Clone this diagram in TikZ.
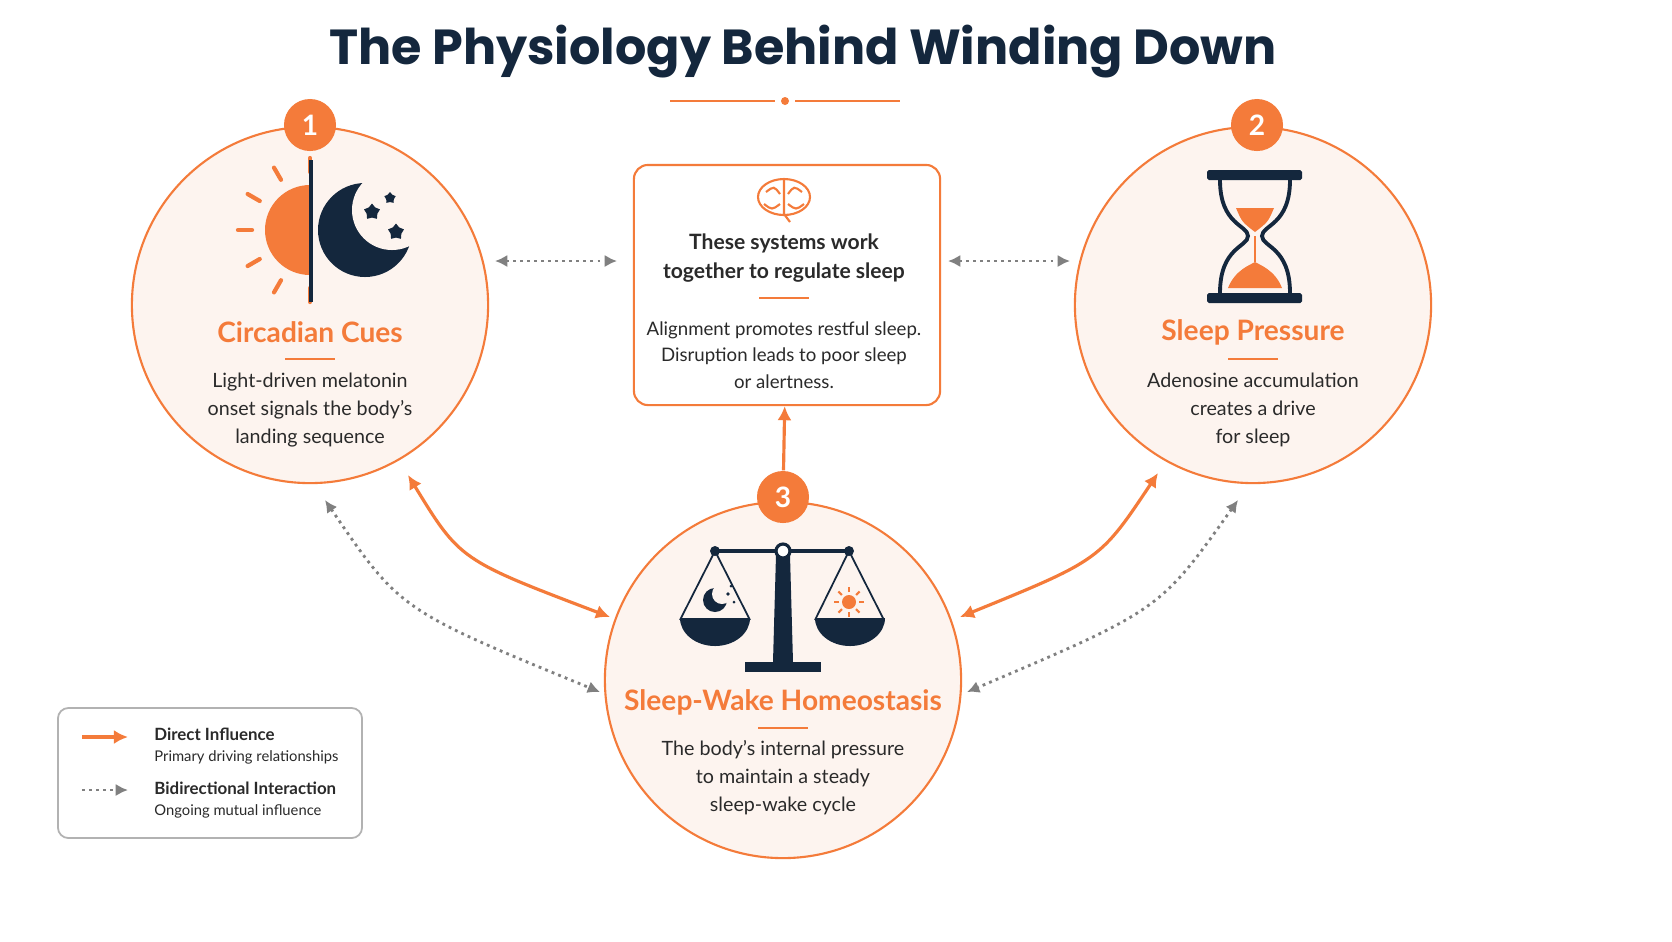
\documentclass[tikz,border=0pt]{standalone}
\usepackage{fontspec}
\setmainfont{Lato}
\newfontfamily\titlefont{Poppins}
\usetikzlibrary{calc, positioning, arrows.meta, shapes.geometric}
\definecolor{orng}{HTML}{F47B3A}
\definecolor{navy}{HTML}{14273D}
\definecolor{peach}{HTML}{FDF4EF}
\definecolor{txt}{HTML}{2A2A2A}
\tikzset{
    hub/.style={circle, draw=orng, line width=0.6pt, fill=peach, minimum size=3.56cm},
    badge/.style={circle, fill=orng, text=white, minimum size=0.52cm, inner sep=0pt, font=\bfseries\fontsize{8}{8}\selectfont},
    heading/.style={text=orng, font=\bfseries\fontsize{8}{9}\selectfont},
    body/.style={text=txt, align=center, font=\fontsize{5.6}{8}\selectfont},
    direct/.style={{Latex[length=4pt,width=4pt]}-{Latex[length=4pt,width=4pt]}, orng, line width=0.9pt},
    mutual/.style={{Latex[length=3.5pt,width=3.5pt]}-{Latex[length=3.5pt,width=3.5pt]}, gray, line width=0.8pt, dash pattern=on 0.8pt off 1.2pt},
    rule/.style={orng, line width=0.4pt}
}
\begin{document}
\begin{tikzpicture}[x=0.01cm, y=-0.01cm]
    \useasboundingbox[fill=white] (0,0) rectangle (1672,941);
    % title
    \node[text=navy, font=\titlefont\bfseries\fontsize{14}{16}\selectfont] (title) at (803,52) {The Physiology Behind Winding Down};
    \draw[orng, line width=0.7pt] (670,101) -- (775,101) (795,101) -- (900,101);
    \fill[orng] (785,101) circle (4);

    % hubs
    \node[hub] (cues) at (310,305) {};
    \node[hub] (press) at (1253,305) {};
    \node[hub] (homeo) at (783,680) {};
    \node[badge] (b1) at (310,125) {1};
    \node[badge] (b2) at (1257,125) {2};
    \node[badge] (b3) at (783,497) {3};

    % circadian icon
    \begin{scope}
        \clip (250,150) rectangle (310,290);
        \fill[orng] (310,230) circle (45);
    \end{scope}
    \foreach \a in {90,120,150,180,210,240,270}
        \draw[orng, line width=1.2pt, line cap=round] ($(310,230)+(\a:58)$) -- ($(310,230)+(\a:72)$);
    \draw[navy, line width=0.9pt] (311,160) -- (311,302);
    \fill[navy] (365,230) circle (47);
    \fill[peach] (392,210) circle (40);
    \foreach \p/\s in {{372,212}/7,{390,198}/5,{396,232}/7}
        \node[navy, star, star points=5, fill, inner sep=0pt, minimum size=\s*0.024cm] at (\p) {};
    \node[heading] (h1) at (310,332) {Circadian Cues};
    \draw[rule] (285,359) -- (335,359);
    \node[body] (t1) at (310,410) {Light-driven melatonin\\onset signals the body’s\\landing sequence};

    % hourglass icon
    \fill[navy, rounded corners=0.5pt] (1207,170) rectangle (1302,180) (1207,293) rectangle (1302,303);
    \draw[navy, line width=1.1pt] (1220,180) .. controls (1220,225) and (1248,225) .. (1248,236) .. controls (1248,247) and (1220,247) .. (1220,293)
        (1290,180) .. controls (1290,225) and (1262,225) .. (1262,236) .. controls (1262,247) and (1290,247) .. (1290,293);
    \fill[orng] (1236,208) -- (1274,208) .. controls (1268,222) .. (1255,232) .. controls (1242,222) .. cycle;
    \fill[orng] (1228,288) .. controls (1235,270) and (1250,265) .. (1255,262) .. controls (1260,265) and (1275,270) .. (1282,288) -- cycle;
    \draw[orng, line width=0.4pt] (1255,236) -- (1255,262);
    \node[heading] (h2) at (1253,332) {Sleep Pressure};
    \draw[rule] (1228,359) -- (1278,359);
    \node[body] (t2) at (1253,410) {Adenosine accumulation\\creates a drive\\for sleep};

    % scale icon
    \fill[navy] (745,662) rectangle (821,672);
    \fill[navy] (776,555) -- (790,555) -- (793,662) -- (773,662) -- cycle;
    \draw[navy, line width=1.1pt] (715,551) -- (849,551);
    \filldraw[navy, fill=white, line width=0.9pt] (783,551) circle (7);
    \fill[navy] (715,551) circle (5) (849,551) circle (5);
    \draw[navy, line width=0.5pt] (680,620) -- (715,551) -- (750,620) (815,620) -- (849,551) -- (884,620);
    \fill[navy] (680,618) arc (180:0:35 and 28) -- cycle;
    \fill[navy] (815,618) arc (180:0:35 and 28) -- cycle;
    \fill[navy] (715,600) circle (12);
    \fill[peach] (722,594) circle (10);
    \fill[navy] (728,594) circle (1.8) (734,602) circle (1.5) (731,586) circle (1.5);
    \fill[orng] (849,602) circle (7);
    \foreach \a in {0,45,...,315}
        \draw[orng, line width=0.6pt] ($(849,602)+(\a:10)$) -- ($(849,602)+(\a:15)$);
    \node[heading] (h3) at (783,702) {Sleep-Wake Homeostasis};
    \draw[rule] (758,728) -- (808,728);
    \node[body] (t3) at (783,778) {The body’s internal pressure\\to maintain a steady\\sleep-wake cycle};

    % centre box
    \node[draw=orng, line width=0.6pt, fill=white, rounded corners=4pt, minimum width=3.06cm, minimum height=2.40cm] (sync) at (787,285) {};
    \draw[orng, line width=0.6pt] (784,197) ellipse (26 and 18) (784,180) -- (784,214) (766,192) .. controls (774,186) .. (780,194) (802,192) .. controls (794,186) .. (788,194) (764,204) .. controls (772,210) .. (780,204) (804,204) .. controls (796,210) .. (788,204) (784,214) -- (790,222);
    \node[text=txt, align=center, font=\bfseries\fontsize{6}{8}\selectfont] (st) at (784,258) {These systems work\\together to regulate sleep};
    \draw[rule] (759,298) -- (809,298);
    \node[body, font=\fontsize{5.3}{7.5}\selectfont] (sb) at (784,355) {Alignment promotes restful sleep.\\Disruption leads to poor sleep\\or alertness.};

    % connectors
    \coordinate (c1) at (495,261); \coordinate (c2) at (617,261);
    \coordinate (c3) at (948,261); \coordinate (c4) at (1070,261);
    \draw[mutual] (c1) -- (c2);
    \draw[mutual] (c3) -- (c4);
    \draw[-{Latex[length=4pt,width=4pt]}, orng, line width=0.9pt] (b3) -- (sync);
    \coordinate (d1) at (408,475); \coordinate (d2) at (610,617);
    \coordinate (d3) at (1158,473); \coordinate (d4) at (960,617);
    \draw[direct] (d1) .. controls (460,560) .. (d2);
    \draw[direct] (d3) .. controls (1100,560) .. (d4);
    \coordinate (e1) at (325,500); \coordinate (e2) at (600,692);
    \coordinate (e3) at (1238,500); \coordinate (e4) at (967,692);
    \draw[mutual] (e1) .. controls (400,610) .. (e2);
    \draw[mutual] (e3) .. controls (1160,610) .. (e4);

    % legend
    \node[draw=gray!60, line width=0.5pt, rounded corners=3pt, minimum width=3.04cm, minimum height=1.30cm] (legend) at (210,773) {};
    \coordinate (k1) at (82,737); \coordinate (k2) at (128,737);
    \coordinate (k3) at (82,790); \coordinate (k4) at (128,790);
    \draw[-{Latex[length=4pt,width=4pt]}, orng, line width=0.9pt] (k1) -- (k2);
    \draw[-{Latex[length=3.5pt,width=3.5pt]}, gray, line width=0.8pt, dash pattern=on 0.8pt off 1.2pt] (k3) -- (k4);
    \node[anchor=west, align=left, text=txt, font=\fontsize{4.2}{6}\selectfont] (l1) at (142,746) {\textbf{\fontsize{4.8}{6}\selectfont Direct Influence}\\Primary driving relationships};
    \node[anchor=west, align=left, text=txt, font=\fontsize{4.2}{6}\selectfont] (l2) at (142,800) {\textbf{\fontsize{4.8}{6}\selectfont Bidirectional Interaction}\\Ongoing mutual influence};
\end{tikzpicture}
\end{document}
